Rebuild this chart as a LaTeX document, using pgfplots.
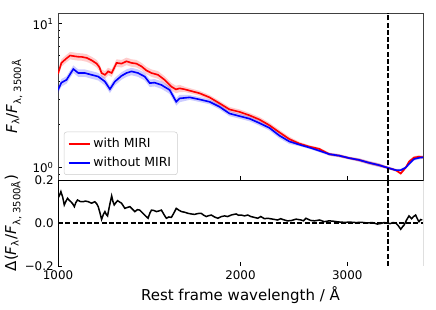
\documentclass[border=0pt]{standalone}
\usepackage{fontspec}
\setmainfont{DejaVu Sans}
\usepackage{pgfplots}
\usepackage{pgfplotstable}
\pgfplotsset{compat=1.18}

\pgfplotstableread{
lam F
1000 4.50
1013 5.35
1030 5.70
1047 6.02
1066 5.95
1080 5.90
1094 5.89
1115 5.80
1136 5.58
1158 5.29
1170 5.00
1180 4.55
1195 4.42
1210 4.67
1226 4.55
1249 5.35
1273 5.29
1297 5.49
1322 5.35
1347 5.29
1373 5.06
1399 4.74
1426 4.55
1462 4.42
1499 4.08
1538 3.66
1565 3.50
1587 3.56
1620 3.50
1649 3.43
1712 3.29
1778 3.08
1847 2.80
1918 2.54
1993 2.44
2069 2.31
2149 2.16
2232 1.97
2318 1.76
2407 1.58
2500 1.47
2597 1.40
2697 1.35
2802 1.24
2910 1.21
3021 1.165
3138 1.13
3259 1.08
3385 1.04
3490 1.00
3607 0.96
3676 0.91
3746 1.00
3793 1.10
3866 1.175
3939 1.19
4000 1.18
}\redtab

\pgfplotstableread{
lam B
1000 4.77
1013 5.67
1030 6.04
1047 6.38
1066 6.31
1080 6.25
1094 6.24
1115 6.15
1136 5.91
1158 5.61
1170 5.30
1180 4.82
1195 4.69
1210 4.95
1226 4.82
1249 5.67
1273 5.61
1297 5.82
1322 5.67
1347 5.61
1373 5.36
1399 5.02
1426 4.82
1462 4.69
1499 4.32
1538 3.88
1565 3.71
1587 3.77
1620 3.64
1649 3.57
1712 3.42
1778 3.20
1847 2.91
1918 2.64
1993 2.54
2069 2.40
2149 2.25
2232 2.05
2318 1.83
2407 1.64
2500 1.51
2597 1.43
2697 1.38
2802 1.27
2910 1.24
3021 1.19
3138 1.16
3259 1.11
3385 1.07
3490 1.02
3607 0.98
3676 0.93
3746 1.02
3793 1.13
3866 1.20
3939 1.22
4000 1.21
4000 1.15
3939 1.16
3866 1.15
3793 1.07
3746 0.98
3676 0.89
3607 0.94
3490 0.98
3385 1.01
3259 1.05
3138 1.10
3021 1.14
2910 1.18
2802 1.21
2697 1.32
2597 1.37
2500 1.43
2407 1.52
2318 1.69
2232 1.89
2149 2.07
2069 2.22
1993 2.34
1918 2.44
1847 2.69
1778 2.96
1712 3.16
1649 3.29
1620 3.36
1587 3.35
1565 3.29
1538 3.44
1499 3.84
1462 4.15
1426 4.28
1399 4.46
1373 4.76
1347 4.97
1322 5.03
1297 5.16
1273 4.97
1249 5.03
1226 4.28
1210 4.39
1195 4.15
1180 4.28
1170 4.70
1158 4.97
1136 5.25
1115 5.45
1094 5.54
1080 5.55
1066 5.59
1047 5.66
1030 5.36
1013 5.03
1000 4.23
}\redband

\pgfplotstableread{
lam F
1000 3.47
1013 3.90
1033 4.08
1048 4.50
1060 4.85
1080 4.55
1107 4.55
1136 4.42
1165 4.30
1195 3.97
1218 3.51
1241 3.97
1273 4.35
1297 4.55
1322 4.67
1355 4.55
1390 4.30
1417 3.87
1443 3.90
1481 3.76
1528 3.47
1567 2.87
1587 3.03
1649 3.08
1712 2.98
1778 2.87
1847 2.65
1918 2.38
1993 2.28
2069 2.19
2149 2.04
2232 1.89
2318 1.67
2407 1.52
2500 1.445
2597 1.38
2697 1.31
2802 1.24
2910 1.21
3021 1.165
3138 1.13
3259 1.08
3385 1.04
3490 1.00
3607 0.96
3676 0.96
3746 1.00
3793 1.06
3866 1.146
3939 1.17
4000 1.18
}\bluetab

\pgfplotstableread{
lam B
1000 3.68
1013 4.13
1033 4.32
1048 4.77
1060 5.14
1080 4.82
1107 4.82
1136 4.69
1165 4.56
1195 4.21
1218 3.72
1241 4.21
1273 4.61
1297 4.82
1322 4.95
1355 4.82
1390 4.56
1417 4.10
1443 4.13
1481 3.99
1528 3.68
1567 3.04
1587 3.21
1649 3.20
1712 3.10
1778 2.98
1847 2.76
1918 2.48
1993 2.37
2069 2.28
2149 2.12
2232 1.97
2318 1.74
2407 1.58
2500 1.48
2597 1.41
2697 1.34
2802 1.27
2910 1.24
3021 1.19
3138 1.16
3259 1.11
3385 1.07
3490 1.02
3607 0.98
3676 0.98
3746 1.02
3793 1.09
3866 1.17
3939 1.20
4000 1.21
4000 1.15
3939 1.14
3866 1.12
3793 1.03
3746 0.98
3676 0.94
3607 0.94
3490 0.98
3385 1.01
3259 1.05
3138 1.10
3021 1.14
2910 1.18
2802 1.21
2697 1.28
2597 1.35
2500 1.41
2407 1.46
2318 1.60
2232 1.81
2149 1.96
2069 2.10
1993 2.19
1918 2.28
1847 2.54
1778 2.76
1712 2.86
1649 2.96
1587 2.85
1567 2.70
1528 3.26
1481 3.53
1443 3.67
1417 3.64
1390 4.04
1355 4.28
1322 4.39
1297 4.28
1273 4.09
1241 3.73
1218 3.30
1195 3.73
1165 4.04
1136 4.15
1107 4.28
1080 4.28
1060 4.56
1048 4.23
1033 3.84
1013 3.67
1000 3.26
}\blueband

\pgfplotstableread{
lam D
1000 0.115
1006 0.130
1011 0.146
1018 0.120
1024 0.084
1030 0.100
1037 0.115
1044 0.105
1050 0.099
1057 0.090
1064 0.076
1070 0.095
1077 0.107
1088 0.100
1100 0.099
1110 0.102
1122 0.099
1136 0.092
1150 0.099
1158 0.090
1165 0.076
1172 0.050
1180 0.017
1188 0.040
1195 0.053
1201 0.040
1207 0.033
1216 0.080
1226 0.126
1232 0.100
1238 0.084
1246 0.095
1254 0.104
1263 0.098
1273 0.092
1281 0.080
1289 0.068
1300 0.072
1314 0.076
1326 0.065
1339 0.053
1352 0.062
1364 0.060
1377 0.048
1390 0.037
1398 0.030
1408 0.022
1417 0.045
1426 0.060
1440 0.058
1453 0.053
1467 0.056
1481 0.060
1495 0.040
1509 0.022
1524 0.028
1538 0.026
1552 0.045
1567 0.068
1582 0.060
1598 0.053
1618 0.050
1638 0.045
1660 0.042
1680 0.040
1700 0.044
1723 0.045
1740 0.036
1756 0.030
1773 0.034
1790 0.037
1812 0.028
1835 0.022
1860 0.030
1883 0.033
1905 0.030
1931 0.037
1950 0.040
1968 0.042
1985 0.036
2005 0.037
2030 0.033
2056 0.037
2080 0.030
2109 0.026
2135 0.022
2160 0.030
2190 0.020
2218 0.022
2260 0.018
2303 0.014
2330 0.020
2350 0.016
2390 0.010
2423 0.011
2470 0.018
2516 0.014
2540 0.010
2564 0.022
2610 0.012
2650 0.010
2700 0.014
2749 0.006
2800 0.010
2850 0.008
2900 0.005
2965 0.003
3030 0.004
3100 0.002
3170 0.003
3238 0.000
3300 0.002
3364 -0.005
3410 -0.002
3450 0.002
3490 0.000
3530 -0.003
3570 0.002
3607 0.000
3640 -0.012
3676 -0.029
3700 -0.018
3722 -0.010
3760 0.015
3793 0.033
3830 0.020
3860 0.030
3890 0.037
3915 0.020
3939 0.006
3965 0.016
3989 0.014
}\deltatab

\begin{document}
\begin{tikzpicture}
\path[use as bounding box] (0pt,0pt) rectangle (348.8pt,248pt);
\pgfplotsset{
  every axis/.append style={
    scale only axis,
    width=292pt,
    xmode=log,
    xmin=1000, xmax=4000,
    tick align=inside,
    xtick pos=bottom, ytick pos=left,
    major tick length=2.8pt,
    minor tick length=1.6pt,
    tick style={black, line width=0.6pt},
    ticklabel style={font=\fontsize{9.5}{11}\selectfont},
    label style={font=\fontsize{12}{14}\selectfont},
    xtick={1000,2000,3000},
  },
}
% top panel
\begin{axis}[
  at={(46.4pt,104pt)}, anchor=south west,
  height=133.6pt,
  ymode=log, ymin=0.82, ymax=11.9,
  ytick={1,10},
  yticklabels={10\textsuperscript{0},10\textsuperscript{1}},
  minor ytick={0.9,2,3,4,5,6,7,8,9},
  xticklabels={},
  axis line style={black!75, line width=0.7pt},
  ylabel={\textit{F}\textsubscript{λ}/\textit{F}\textsubscript{λ, 3500Å}},
  ylabel style={at={(axis description cs:-0.12,0.5)}, anchor=center},
  legend style={at={(rel axis cs:0.016,0.03)}, anchor=south west,
    draw=black!20, rounded corners=2pt, fill=white, fill opacity=0.85, text opacity=1,
    font=\fontsize{10}{12}\selectfont, row sep=2pt, inner xsep=3pt, inner ysep=3pt},
  legend cell align=left,
]
\addlegendimage{red, line width=1.3pt, line legend}
\addlegendentry{with MIRI}
\addlegendimage{blue, line width=1.3pt, line legend}
\addlegendentry{without MIRI}
\addplot[fill=red, fill opacity=0.2, draw=none, forget plot] table[x=lam, y=B] {\redband} -- cycle;
\addplot[fill=blue, fill opacity=0.2, draw=none, forget plot] table[x=lam, y=B] {\blueband} -- cycle;
\addplot[red, line width=1.3pt, forget plot] table[x=lam, y=F] {\redtab};
\addplot[blue, line width=1.3pt, forget plot] table[x=lam, y=F] {\bluetab};
\addplot[black, dash pattern=on 4pt off 1.8pt, line width=1.1pt, forget plot] coordinates {(3500,0.82) (3500,11.9)};
\end{axis}
% bottom panel
\begin{axis}[
  at={(46.4pt,35.2pt)}, anchor=south west,
  height=68.8pt,
  ymin=-0.2, ymax=0.2,
  ytick={-0.2,0,0.2},
  yticklabels={−0.2,0.0,0.2},
  xticklabels={1000,2000,3000},
  axis line style={draw=none},
  xlabel={Rest frame wavelength / Å},
  xlabel style={yshift=1pt},
  ylabel={Δ(\textit{F}\textsubscript{λ}/\textit{F}\textsubscript{λ, 3500Å})},
  ylabel style={at={(axis description cs:-0.123,0.5)}, anchor=center},
]
\draw[black, line width=0.7pt] (rel axis cs:0,0) -- (rel axis cs:0,1) -- (rel axis cs:1,1) -- (rel axis cs:1,0);
\addplot[black, dash pattern=on 4pt off 1.8pt, line width=1.1pt] coordinates {(1000,0) (4000,0)};
\addplot[black, dash pattern=on 4pt off 1.8pt, line width=1.1pt] coordinates {(3500,-0.2) (3500,0.2)};
\addplot[black, line width=1.2pt] table[x=lam, y=D] {\deltatab};
\end{axis}
\end{tikzpicture}
\end{document}
